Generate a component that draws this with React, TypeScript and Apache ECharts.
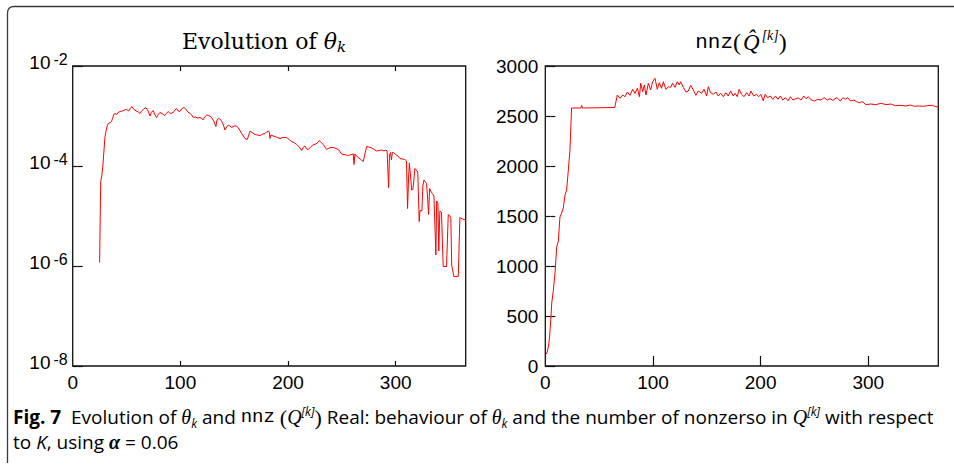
import React, { useEffect, useRef } from "react";
import * as echarts from "echarts";

// ---------- data ----------
const xTickValues = [0, 100, 200, 300];
const logTickValues = [1e-8, 1e-6, 1e-4, 1e-2];

// [k, log10(theta_k)]
const thetaPoints: [number, number][] = [
  [25, -5.93], [26, -4.31], [27, -4.2], [28, -4.0], [29, -3.7], [30, -3.41], [31, -3.3], [32, -3.2],
  [33, -3.15], [35, -3.13], [36, -3.11], [37, -3.05], [38, -2.98], [39, -2.95], [41, -2.97], [42, -2.93],
  [44, -2.91], [46, -2.9], [48, -2.88], [50, -2.87], [52, -2.9], [54, -2.83], [55, -2.81], [57, -2.87],
  [59, -2.9], [61, -2.92], [62.5, -2.95], [64, -2.9], [66, -2.86], [68, -2.83], [70, -2.9], [71.8, -3.0],
  [73, -2.93], [74.8, -2.89], [76, -2.96], [77.9, -3.03], [79.5, -2.97], [81, -2.93], [83, -2.95],
  [85.6, -2.99], [87, -2.95], [88.7, -2.91], [90.5, -2.95], [93.3, -2.93], [95, -2.88], [96.4, -2.85],
  [98, -2.9], [99.5, -2.91], [101.5, -2.85], [103.3, -2.83], [105, -2.86], [107, -2.92], [108.9, -2.95],
  [110.5, -2.98], [112, -3.03], [114, -3.02], [116, -3.04], [118.2, -3.03], [120, -3.05], [121, -3.08],
  [122.5, -3.02], [124.4, -2.98], [126.5, -2.99], [129, -3.03], [131, -3.1], [133, -3.21], [134, -3.08],
  [135, -3.05], [136.5, -3.06], [138, -3.09], [140, -3.18], [141.4, -3.28], [143, -3.22], [144.5, -3.18],
  [146, -3.2], [147.6, -3.23], [150, -3.2], [152.2, -3.2], [154.5, -3.26], [156.9, -3.35], [158.5, -3.4],
  [160, -3.45], [162.2, -3.47], [163.5, -3.38], [164.7, -3.3], [166.5, -3.33], [169.3, -3.37],
  [171.5, -3.38], [174, -3.39], [176.5, -3.36], [178.6, -3.35], [180, -3.32], [181.7, -3.3],
  [182.7, -3.33], [183.2, -3.45], [184, -3.38], [186.3, -3.4], [189, -3.42], [192.5, -3.45],
  [195.5, -3.43], [198.7, -3.43], [201, -3.47], [203.3, -3.51], [205.5, -3.53], [208, -3.57],
  [210.5, -3.62], [212.6, -3.69], [214, -3.63], [215.7, -3.6], [217.3, -3.66], [218.8, -3.67],
  [221, -3.62], [223.5, -3.57], [226, -3.56], [228, -3.52], [229, -3.49], [230.8, -3.53], [232.7, -3.57],
  [234.3, -3.62], [235.8, -3.67], [238, -3.64], [240, -3.63], [242, -3.63], [244.5, -3.65],
  [246.7, -3.67], [248.5, -3.72], [249.8, -3.76], [252, -3.77], [254, -3.78], [256, -3.79],
  [258.5, -3.77], [260.6, -3.76], [261.2, -3.97], [262.1, -3.76], [263.5, -3.8], [265.2, -3.83],
  [267.5, -3.87], [269.9, -3.91], [271.5, -3.75], [273, -3.61], [275, -3.62], [277.6, -3.64],
  [280, -3.67], [282.2, -3.7], [284.5, -3.69], [286.9, -3.68], [289, -3.7], [290.9, -3.68], [292, -3.7],
  [293.4, -4.43], [294.2, -3.78], [295.2, -3.73], [296, -3.88], [297, -3.73], [298, -3.73], [300, -3.77],
  [302, -3.8], [303.9, -3.85], [306, -3.86], [308.5, -3.87], [310, -3.9], [311, -4.85], [312, -4.2],
  [312.7, -3.94], [313.8, -4.2], [314.8, -4.48], [316, -4.47], [317.8, -4.05], [319, -4.08],
  [320.5, -4.12], [321.8, -5.11], [322.5, -4.89], [324.3, -4.9], [325.2, -4.4], [326.2, -4.28],
  [328, -4.33], [328.6, -4.35], [329.5, -4.6], [330.5, -4.97], [331.5, -4.45], [332.5, -4.5],
  [334, -4.55], [335.5, -4.6], [337.3, -5.78], [338, -4.7], [339.2, -4.75], [340, -5.7], [341, -4.9],
  [342.5, -4.93], [344.1, -6.01], [347.2, -6.01], [348.8, -4.97], [350.2, -5.0], [351.2, -5.05],
  [352, -5.98], [353, -6.1], [354, -6.21], [358.1, -6.21], [359.6, -5.03], [362, -5.06], [365, -5.08],
];

// [k, nnz(Q^[k])]
const nnzPoints: [number, number][] = [
  [1, 120], [2, 150], [3, 200], [4, 290], [5, 450], [6, 630], [7.5, 760], [9, 930], [10.6, 1190],
  [12.1, 1250], [13.6, 1490], [15.2, 1530], [16.7, 1580], [18.3, 1710], [19.8, 1760], [21.4, 1960],
  [22.9, 2160], [24.4, 2580], [33, 2580], [33.8, 2605], [34.6, 2580], [64.5, 2585], [66.9, 2710],
  [69.4, 2677], [71.9, 2710], [74, 2693], [76.2, 2740], [78.7, 2707], [81.2, 2767], [83.3, 2727],
  [85.5, 2777], [87.4, 2693], [88.6, 2827], [90.4, 2743], [92, 2810], [93.5, 2710], [95.7, 2827],
  [97.8, 2760], [99.7, 2843], [101.9, 2877], [104, 2767], [105.9, 2833], [108, 2777], [109.6, 2843],
  [112.1, 2767], [114.3, 2793], [116.4, 2787], [118.3, 2827], [120.5, 2787], [122.6, 2843],
  [124.5, 2810], [125.7, 2843], [128.2, 2787], [130.7, 2740], [132.8, 2750], [135, 2807],
  [137.5, 2760], [139.9, 2707], [142.1, 2750], [145.2, 2727], [147.4, 2767], [149.8, 2700],
  [151.4, 2793], [153.5, 2733], [156, 2717], [158.5, 2740], [160.6, 2700], [162.8, 2727],
  [165.3, 2693], [167.7, 2733], [169.9, 2700], [172.1, 2750], [174.6, 2700], [176.2, 2727],
  [178.3, 2693], [180.1, 2767], [182.3, 2717], [184.5, 2693], [187, 2733], [189.3, 2700], [191, 2750],
  [193.5, 2700], [196, 2717], [198.2, 2693], [200.2, 2717], [202.4, 2653], [204.2, 2717],
  [206.5, 2683], [209, 2700], [211.3, 2667], [213.8, 2700], [216, 2667], [218.3, 2700], [220.6, 2660],
  [223, 2683], [225.5, 2653], [227.6, 2693], [230, 2660], [232.5, 2673], [235, 2680], [237.5, 2660],
  [240, 2700], [242.2, 2673], [244.3, 2693], [247, 2660], [250.1, 2650], [253, 2667], [256, 2660],
  [259, 2683], [262, 2660], [264.5, 2673], [267, 2657], [270.8, 2683], [274, 2650], [276.4, 2683],
  [278.6, 2667], [280.8, 2683], [283.5, 2650], [286.5, 2660], [289, 2645], [291.5, 2633],
  [294.5, 2643], [297.7, 2613], [302, 2620], [306.5, 2613], [312.1, 2627], [316.5, 2613], [321, 2620],
  [325, 2603], [329.5, 2607], [334.6, 2600], [339, 2610], [343, 2597], [347, 2600], [351, 2597],
  [355, 2603], [359.4, 2607], [362, 2597], [365, 2587],
];

// ---------- styling ----------
const TICK_FONT = "Liberation Sans";
const SERIF = "DejaVu Serif";
const MONO = "Liberation Mono";
const CAP_FONT = "Open Sans";
const AXIS_COLOR = "#111";
const LINE_RED = "#ff0000";
const TICK_LEN = 5;

const FRAME_D = "M7.5 463 L7.5 13 Q7.5 6.5 14 6.5 L960 6.5";

let frameRegistered = false;

export default function App() {
  const ref = useRef<HTMLDivElement>(null);

  useEffect(() => {
    if (!ref.current) return;
    if (!frameRegistered) {
      echarts.graphic.registerShape("frame", echarts.graphic.extendPath(FRAME_D, {}) as any);
      frameRegistered = true;
    }
    const chart = echarts.init(ref.current, undefined, { renderer: "svg" });

    // Axes are shifted inward by the tick length so their (outward) ticks fall inside the grid box,
    // which is drawn by the grid's own border.
    const tick = { show: true, length: TICK_LEN, lineStyle: { color: AXIS_COLOR, width: 1.2 } };

    const xAxisBase = (gridIndex: number, position: "top" | "bottom", labels: boolean) => ({
      type: "value",
      gridIndex,
      position,
      offset: -TICK_LEN,
      min: 0,
      max: 365,
      axisLine: { show: false },
      splitLine: { show: false },
      axisTick: { ...tick, customValues: xTickValues.slice(1) },
      axisLabel: {
        show: labels,
        customValues: xTickValues,
        color: "#000",
        fontFamily: TICK_FONT,
        fontSize: 19,
        margin: 7 + TICK_LEN,
        formatter: (v: number) => String(v),
      },
    });

    const logAxis = (position: "left" | "right", labels: boolean) => ({
      type: "log",
      logBase: 10,
      gridIndex: 0,
      position,
      offset: -TICK_LEN,
      min: 1e-8,
      max: 1e-2,
      axisLine: { show: false },
      splitLine: { show: false },
      minorTick: { show: false },
      axisTick: { ...tick, customValues: logTickValues },
      axisLabel: {
        show: labels,
        customValues: logTickValues,
        margin: 5 + TICK_LEN,
        padding: [0, 0, 7, 0],
        formatter: (v: number) => `{b|10}{s|${Math.round(Math.log10(v))}}`,
        rich: {
          b: { fontFamily: TICK_FONT, fontSize: 19, color: "#000", lineHeight: 22 },
          s: { fontFamily: TICK_FONT, fontSize: 16, color: "#000", verticalAlign: "top", lineHeight: 14, padding: [0, 0, 0, 3] },
        },
      },
    });

    const nnzAxis = (position: "left" | "right", labels: boolean) => ({
      type: "value",
      gridIndex: 1,
      position,
      offset: -TICK_LEN,
      min: 0,
      max: 3000,
      interval: 500,
      axisLine: { show: false },
      splitLine: { show: false },
      axisTick: tick,
      axisLabel: {
        show: labels,
        color: "#000",
        fontFamily: TICK_FONT,
        fontSize: 19,
        margin: 7 + TICK_LEN,
        formatter: (v: number) => String(v),
      },
    });

    const C = "#231f20";
    const CS = 19;
    const capRich = {
      r: { fontFamily: CAP_FONT, fontSize: CS, color: C, lineHeight: 24 },
      b: { fontFamily: CAP_FONT, fontSize: CS, fontWeight: "bold", color: C, lineHeight: 24 },
      i: { fontFamily: "Liberation Serif", fontStyle: "italic", fontSize: 20, color: C, lineHeight: 24 },
      ci: { fontFamily: CAP_FONT, fontStyle: "italic", fontSize: CS, color: C, lineHeight: 24 },
      sub: { fontFamily: CAP_FONT, fontStyle: "italic", fontSize: 12, color: C, verticalAlign: "bottom", lineHeight: 16 },
      sup: { fontFamily: CAP_FONT, fontStyle: "italic", fontSize: 12, color: C, verticalAlign: "top", lineHeight: 14 },
      m: { fontFamily: MONO, fontSize: CS, color: C, lineHeight: 24 },
      p: { fontFamily: "Liberation Serif", fontSize: 22, color: C, lineHeight: 24 },
      a: { fontFamily: "Liberation Serif", fontStyle: "italic", fontWeight: "bold", fontSize: 20, color: C, lineHeight: 24 },
    };

    const gridBox = { show: true, borderColor: AXIS_COLOR, borderWidth: 1.3, backgroundColor: "transparent", containLabel: false };

    chart.setOption({
      animation: false,
      backgroundColor: "#ffffff",
      grid: [
        { left: 72.7, top: 66, width: 393, height: 300, ...gridBox },
        { left: 545.3, top: 66, width: 393, height: 300, ...gridBox },
      ],
      xAxis: [
        xAxisBase(0, "bottom", true),
        xAxisBase(0, "top", false),
        xAxisBase(1, "bottom", true),
        xAxisBase(1, "top", false),
      ],
      yAxis: [logAxis("left", true), logAxis("right", false), nnzAxis("left", true), nnzAxis("right", false)],
      series: [
        {
          type: "line",
          xAxisIndex: 0,
          yAxisIndex: 0,
          data: thetaPoints.map(([k, e]) => [k, Math.pow(10, e)]),
          showSymbol: false,
          symbol: "none",
          lineStyle: { color: LINE_RED, width: 1 },
        },
        {
          type: "line",
          xAxisIndex: 2,
          yAxisIndex: 2,
          data: nnzPoints,
          showSymbol: false,
          symbol: "none",
          lineStyle: { color: LINE_RED, width: 1 },
        },
      ],
      graphic: [
        {
          type: "frame",
          x: 0,
          y: 0,
          style: { fill: "none", stroke: "#3a3a3a", lineWidth: 1.3 },
          silent: true,
        },
        {
          type: "text",
          x: 264,
          y: 41,
          style: {
            text: "{t|Evolution of }{ti|θ}{ts|k}",
            align: "center",
            verticalAlign: "middle",
            rich: {
              t: { fontFamily: SERIF, fontSize: 22, color: "#000", lineHeight: 26 },
              ti: { fontFamily: SERIF, fontStyle: "italic", fontSize: 22, color: "#000", lineHeight: 26 },
              ts: { fontFamily: SERIF, fontStyle: "italic", fontSize: 15, color: "#000", verticalAlign: "bottom", lineHeight: 18 },
            },
          },
        },
        {
          type: "text",
          x: 741,
          y: 42,
          style: {
            text: "{m|nnz}{p|(}{q|Q\u0302}{s|[k]}{p|)}",
            align: "center",
            verticalAlign: "middle",
            rich: {
              m: { fontFamily: MONO, fontSize: 21, color: "#000", lineHeight: 28 },
              p: { fontFamily: "Liberation Serif", fontSize: 24, color: "#000", lineHeight: 28 },
              q: { fontFamily: "Liberation Serif", fontStyle: "italic", fontSize: 23, color: "#000", lineHeight: 28, padding: [0, 2, 0, 2] },
              s: { fontFamily: "Liberation Serif", fontStyle: "italic", fontSize: 14, color: "#000", verticalAlign: "top", lineHeight: 16 },
            },
          },
        },
        {
          type: "text",
          x: 13,
          y: 417,
          style: {
            text:
              "{b|Fig. 7}{r|  Evolution of }{i|θ}{sub|k}{r| and }{m|nnz}{r| }{p|(}{i|Q}{sup|[k]}{p|)}{r| Real: behaviour of }{i|θ}{sub|k}{r| and the number of nonzerso in }{i|Q}{sup|[k]}{r| with respect}",
            verticalAlign: "middle",
            rich: capRich,
          },
        },
        {
          type: "text",
          x: 13,
          y: 442,
          style: {
            text: "{r|to }{ci|K}{r|, using }{a|α}{r| = 0.06}",
            verticalAlign: "middle",
            rich: capRich,
          },
        },
      ],
    });

    return () => chart.dispose();
  }, []);

  return (
    <div
      ref={ref}
      style={{ position: "absolute", left: 0, top: 0, width: 954, height: 467, background: "#fff" }}
    />
  );
}
